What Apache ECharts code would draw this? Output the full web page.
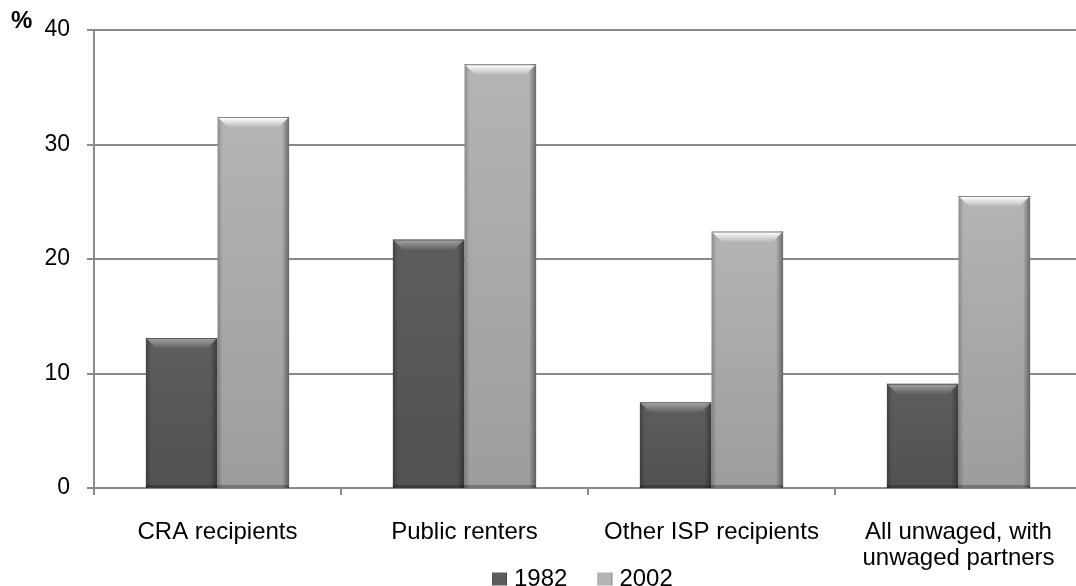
<!DOCTYPE html>
<html>
<head>
<meta charset="utf-8">
<script src="https://cdn.jsdelivr.net/npm/echarts@6/dist/echarts.min.js"></script>
<style>
  html, body { margin: 0; padding: 0; background: #ffffff; overflow: hidden; }
  /* plot area runs slightly past the right edge of the window */
  #chart { width: 1082px; height: 586px; }
</style>
</head>
<body>
<div id="chart"></div>
<script>
// Share of each group, per survey year (%)
const categories = ['CRA recipients', 'Public renters', 'Other ISP recipients', 'All unwaged, with\nunwaged partners'];
const years = ['1982', '2002'];
const values1982 = [13.1, 21.7, 7.5, 9.1];
const values2002 = [32.4, 37.0, 22.4, 25.5];
const yTicks = { min: 0, max: 40, interval: 10 };

const FONT = '"Liberation Sans", Arial, sans-serif';
const CAT_GAP = 0.42;

function sideGradient(edge, mid, edge2) {
  return new echarts.graphic.LinearGradient(0, 0, 1, 0, [
    { offset: 0, color: edge },
    { offset: 0.07, color: mid },
    { offset: 0.9, color: mid },
    { offset: 1, color: edge2 }
  ]);
}

// Bevel overlay drawn on top of each bar: light top chamfer, shaded body and base
function bevel(seriesIdx) {
  return function (params, api) {
    const i = api.value(0);
    const top = api.coord([i, api.value(1)]);
    const base = api.coord([i, 0]);
    const cw = api.size([1, 0])[0];
    const bw = cw * (1 - CAT_GAP) / 2;
    const x0 = seriesIdx === 0 ? top[0] - bw : top[0];
    const x1 = x0 + bw;
    const y0 = top[1];
    const y1 = base[1];
    const b = 11;
    const light = seriesIdx === 0 ? 'rgba(255,255,255,0.4)' : 'rgba(255,255,255,0.95)';
    return {
      type: 'group',
      children: [
        {
          type: 'rect',
          shape: { x: x0, y: y0, width: bw, height: y1 - y0 },
          style: {
            fill: new echarts.graphic.LinearGradient(0, 0, 0, 1, [
              { offset: 0, color: 'rgba(0,0,0,0)' },
              { offset: 1, color: 'rgba(0,0,0,0.13)' }
            ])
          }
        },
        {
          type: 'polygon',
          shape: { points: [[x0, y0], [x1, y0], [x1 - b, y0 + b], [x0 + b, y0 + b]] },
          style: {
            fill: new echarts.graphic.LinearGradient(0, 0, 0, 1, [
              { offset: 0, color: 'rgba(0,0,0,0.3)' },
              { offset: 0.12, color: light },
              { offset: 1, color: 'rgba(255,255,255,0)' }
            ])
          }
        },
        {
          type: 'rect',
          shape: { x: x0, y: y1 - 3, width: bw, height: 3 },
          style: { fill: 'rgba(0,0,0,0.25)' }
        }
      ]
    };
  };
}

const chart = echarts.init(document.getElementById('chart'), null, { renderer: 'canvas' });

chart.setOption({
  animation: false,
  backgroundColor: '#ffffff',
  textStyle: { fontFamily: FONT },
  grid: { left: 94, right: 0, top: 30, bottom: 98, containLabel: false },
  graphic: [{
    type: 'text',
    left: 11,
    top: 9,
    style: { text: '%', font: 'bold 24px ' + FONT, fill: '#000' }
  }],
  legend: {
    data: years,
    left: 492,
    top: 567,
    padding: 0,
    itemWidth: 15,
    itemHeight: 13,
    itemGap: 30,
    icon: 'rect',
    textStyle: { fontSize: 24, color: '#000', fontFamily: FONT, padding: [8, 0, 0, 2] }
  },
  xAxis: {
    type: 'category',
    data: categories,
    axisLine: { lineStyle: { color: '#8a8a8a', width: 2 } },
    axisTick: { show: true, length: 7, alignWithLabel: false, lineStyle: { color: '#8a8a8a', width: 2 } },
    axisLabel: { color: '#000', fontSize: 24, fontFamily: FONT, margin: 31, lineHeight: 26, interval: 0 },
    splitLine: { show: false }
  },
  yAxis: {
    type: 'value',
    min: yTicks.min,
    max: yTicks.max,
    interval: yTicks.interval,
    axisLine: { show: true, lineStyle: { color: '#8a8a8a', width: 2 } },
    axisTick: { show: true, length: 7, lineStyle: { color: '#8a8a8a', width: 2 } },
    axisLabel: { color: '#000', fontSize: 23, fontFamily: FONT, margin: 24, padding: [7, 0, 0, 0] },
    splitLine: { show: true, lineStyle: { color: '#8a8a8a', width: 2 } }
  },
  series: [
    {
      name: years[0],
      type: 'bar',
      data: values1982,
      barGap: '0%',
      barCategoryGap: (CAT_GAP * 100) + '%',
      itemStyle: { color: sideGradient('#444444', '#5d5d5d', '#3a3a3a') },
      z: 2
    },
    {
      name: years[1],
      type: 'bar',
      data: values2002,
      barGap: '0%',
      barCategoryGap: (CAT_GAP * 100) + '%',
      itemStyle: { color: sideGradient('#8c8c8c', '#b4b4b4', '#6a6a6a') },
      z: 2
    },
    {
      name: 'bevel1982',
      type: 'custom',
      renderItem: bevel(0),
      data: values1982.map((v, i) => [i, v]),
      silent: true,
      z: 3
    },
    {
      name: 'bevel2002',
      type: 'custom',
      renderItem: bevel(1),
      data: values2002.map((v, i) => [i, v]),
      silent: true,
      z: 3
    }
  ]
});
</script>
</body>
</html>
